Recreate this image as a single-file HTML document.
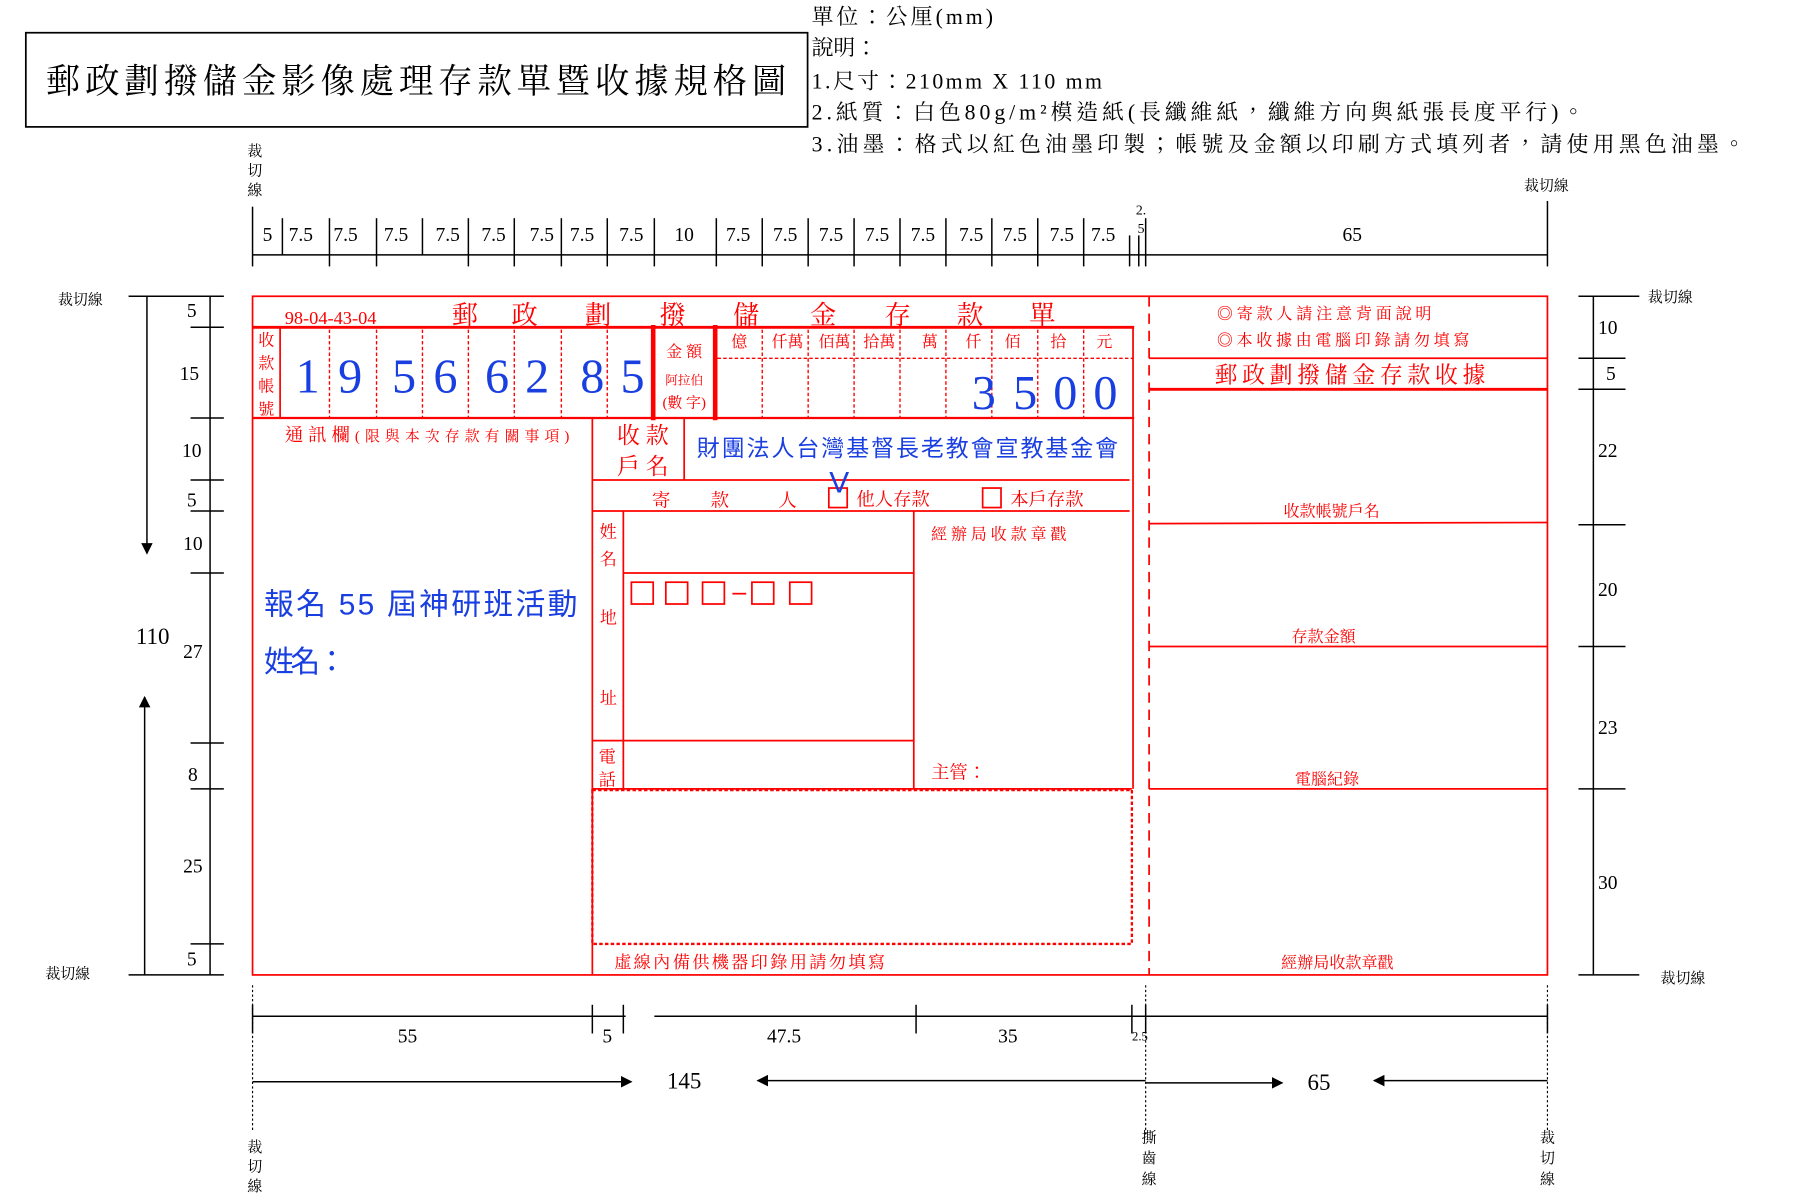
<!DOCTYPE html>
<html><head><meta charset="utf-8"><style>
html,body{margin:0;padding:0;background:#fff;width:1800px;height:1200px;overflow:hidden}
svg{display:block}
text{font-family:"Liberation Serif","Noto Serif CJK TC","Noto Serif CJK SC",serif}
.r{fill:#f00}
.b{fill:#1a3fe0}
.k{fill:#000}
.sans{font-family:"Liberation Sans","Noto Sans CJK TC",sans-serif}
</style></head><body>
<svg width="1800" height="1200" viewBox="0 0 1568 1045" preserveAspectRatio="none" xmlns="http://www.w3.org/2000/svg">
<defs>
<marker id="ah" markerWidth="10" markerHeight="10" refX="9" refY="5" orient="auto" markerUnits="userSpaceOnUse"><path d="M0,0 L10,5 L0,10 z" fill="#000"/></marker>
</defs>
<!-- title box -->
<rect x="22.5" y="28.5" width="681" height="82" fill="none" stroke="#000" stroke-width="1.5"/>
<text x="40" y="81" font-size="30" class="k" textLength="645" lengthAdjust="spacing">郵政劃撥儲金影像處理存款單暨收據規格圖</text>
<g font-size="19" class="k">
<text x="707" y="21" textLength="158" lengthAdjust="spacing">單位：公厘(mm)</text>
<text x="707" y="48">說明：</text>
<text x="707" y="77" textLength="253" lengthAdjust="spacing">1.尺寸：210mm X 110 mm</text>
<text x="707" y="104" textLength="673" lengthAdjust="spacing">2.紙質：白色80g/m²模造紙(長纖維紙，纖維方向與紙張長度平行)。</text>
<text x="707" y="132" textLength="813" lengthAdjust="spacing">3.油墨：格式以紅色油墨印製；帳號及金額以印刷方式填列者，請使用黑色油墨。</text>
</g>
<g font-size="13" class="k" text-anchor="middle">
<text x="222" y="136">裁</text><text x="222" y="153">切</text><text x="222" y="170">線</text>
<text x="1347" y="166">裁切線</text>
<text x="70" y="265">裁切線</text>
<text x="59" y="852">裁切線</text>
<text x="1455" y="263">裁切線</text>
<text x="1466" y="856">裁切線</text>
<text x="222" y="1003">裁</text><text x="222" y="1020">切</text><text x="222" y="1037">線</text>
<text x="1001" y="995">撕</text><text x="1001" y="1013">齒</text><text x="1001" y="1031">線</text>
<text x="1348" y="995">裁</text><text x="1348" y="1013">切</text><text x="1348" y="1031">線</text>
</g>
<!-- top ruler -->
<g stroke="#000" stroke-width="1.3">
<line x1="220" y1="222" x2="1348" y2="222"/>
<line x1="220" y1="180" x2="220" y2="232"/>
<line x1="246" y1="190" x2="246" y2="222"/>
<line x1="287" y1="190" x2="287" y2="232"/>
<line x1="328" y1="190" x2="328" y2="232"/>
<line x1="368" y1="190" x2="368" y2="222"/>
<line x1="408" y1="190" x2="408" y2="232"/>
<line x1="448" y1="190" x2="448" y2="232"/>
<line x1="489" y1="190" x2="489" y2="232"/>
<line x1="529" y1="190" x2="529" y2="232"/>
<line x1="570" y1="190" x2="570" y2="232"/>
<line x1="624" y1="190" x2="624" y2="232"/>
<line x1="664" y1="190" x2="664" y2="232"/>
<line x1="704" y1="190" x2="704" y2="232"/>
<line x1="744" y1="190" x2="744" y2="232"/>
<line x1="784" y1="190" x2="784" y2="232"/>
<line x1="824" y1="190" x2="824" y2="232"/>
<line x1="864" y1="190" x2="864" y2="232"/>
<line x1="904" y1="190" x2="904" y2="232"/>
<line x1="944" y1="190" x2="944" y2="232"/>
<line x1="984" y1="205" x2="984" y2="232"/>
<line x1="992" y1="205" x2="992" y2="232"/>
<line x1="998" y1="190" x2="998" y2="232"/>
<line x1="1348" y1="175" x2="1348" y2="232"/>
</g>
<g font-size="17" class="k" text-anchor="middle">
<text x="233" y="210">5</text><text x="262" y="210">7.5</text><text x="301" y="210">7.5</text>
<text x="345" y="210">7.5</text><text x="390" y="210">7.5</text><text x="430" y="210">7.5</text>
<text x="472" y="210">7.5</text><text x="507" y="210">7.5</text><text x="550" y="210">7.5</text>
<text x="596" y="210">10</text><text x="643" y="210">7.5</text><text x="684" y="210">7.5</text>
<text x="724" y="210">7.5</text><text x="764" y="210">7.5</text><text x="804" y="210">7.5</text>
<text x="846" y="210">7.5</text><text x="884" y="210">7.5</text><text x="925" y="210">7.5</text>
<text x="961" y="210">7.5</text><text x="1178" y="210">65</text>
<text x="994" y="187" font-size="12">2.</text><text x="994" y="203" font-size="12">5</text>
</g>
<!-- left ruler -->
<g stroke="#000" stroke-width="1.3">
<line x1="112" y1="258" x2="195" y2="258"/>
<line x1="112" y1="849" x2="195" y2="849"/>
<line x1="183" y1="258" x2="183" y2="849"/>
<line x1="166" y1="285" x2="195" y2="285"/>
<line x1="166" y1="364" x2="195" y2="364"/>
<line x1="166" y1="418" x2="195" y2="418"/>
<line x1="166" y1="445" x2="195" y2="445"/>
<line x1="166" y1="499" x2="195" y2="499"/>
<line x1="166" y1="647" x2="195" y2="647"/>
<line x1="166" y1="687" x2="195" y2="687"/>
<line x1="166" y1="822" x2="195" y2="822"/>
<line x1="128" y1="258" x2="128" y2="482" marker-end="url(#ah)"/>
<line x1="126" y1="849" x2="126" y2="607" marker-end="url(#ah)"/>
</g>
<g font-size="17" class="k" text-anchor="middle">
<text x="167" y="276">5</text><text x="165" y="331">15</text><text x="167" y="398">10</text>
<text x="167" y="441">5</text><text x="168" y="479">10</text><text x="168" y="573">27</text>
<text x="168" y="680">8</text><text x="168" y="760">25</text><text x="167" y="841">5</text>
<text x="133" y="561" font-size="20">110</text>
</g>
<!-- right ruler -->
<g stroke="#000" stroke-width="1.3">
<line x1="1375" y1="258" x2="1428" y2="258"/>
<line x1="1375" y1="849" x2="1428" y2="849"/>
<line x1="1388" y1="258" x2="1388" y2="849"/>
<line x1="1375" y1="312" x2="1416" y2="312"/>
<line x1="1375" y1="339" x2="1416" y2="339"/>
<line x1="1375" y1="457" x2="1416" y2="457"/>
<line x1="1375" y1="563" x2="1416" y2="563"/>
<line x1="1375" y1="687" x2="1416" y2="687"/>
</g>
<g font-size="17" class="k">
<text x="1392" y="291">10</text><text x="1399" y="331">5</text><text x="1392" y="398">22</text>
<text x="1392" y="519">20</text><text x="1392" y="639">23</text><text x="1392" y="774">30</text>
</g>
<!-- bottom ruler -->
<g stroke="#000" stroke-width="1.3">
<line x1="220" y1="885" x2="545" y2="885"/>
<line x1="570" y1="885" x2="1348" y2="885"/>
<line x1="220" y1="875" x2="220" y2="900"/>
<line x1="516" y1="875" x2="516" y2="900"/>
<line x1="543" y1="875" x2="543" y2="900"/>
<line x1="798" y1="875" x2="798" y2="900"/>
<line x1="986" y1="875" x2="986" y2="900"/>
<line x1="998" y1="875" x2="998" y2="900"/>
<line x1="1348" y1="875" x2="1348" y2="900"/>
<line x1="220" y1="942" x2="550" y2="942" marker-end="url(#ah)"/>
<line x1="998" y1="941" x2="660" y2="941" marker-end="url(#ah)"/>
<line x1="998" y1="943" x2="1117" y2="943" marker-end="url(#ah)"/>
<line x1="1348" y1="941" x2="1197" y2="941" marker-end="url(#ah)"/>
</g>
<g stroke="#000" stroke-width="1" stroke-dasharray="2,2">
<line x1="220" y1="858" x2="220" y2="985"/>
<line x1="998" y1="858" x2="998" y2="990"/>
<line x1="1348" y1="858" x2="1348" y2="985"/>
</g>
<g font-size="17" class="k" text-anchor="middle">
<text x="355" y="908">55</text><text x="529" y="908">5</text><text x="683" y="908">47.5</text>
<text x="878" y="908">35</text><text x="993" y="906" font-size="11">2.5</text>
<text x="596" y="948" font-size="20">145</text><text x="1149" y="949" font-size="20">65</text>
</g>
<!-- form -->
<g stroke="#f00" fill="none" stroke-width="1.5">
<rect x="220" y="258" width="1128" height="591"/>
<line x1="220" y1="285" x2="988" y2="285" stroke-width="2.5"/>
<line x1="220" y1="364" x2="988" y2="364" stroke-width="2"/>
<line x1="244" y1="285" x2="244" y2="364"/>
<line x1="569" y1="283" x2="569" y2="366" stroke-width="4"/>
<line x1="623" y1="283" x2="623" y2="366" stroke-width="4"/>
<line x1="987" y1="285" x2="987" y2="687"/>
<line x1="516" y1="364" x2="516" y2="849"/>
<line x1="596" y1="364" x2="596" y2="418"/>
<line x1="516" y1="418" x2="984" y2="418"/>
<line x1="516" y1="445" x2="984" y2="445"/>
<line x1="543" y1="445" x2="543" y2="687"/>
<line x1="796" y1="445" x2="796" y2="687"/>
<line x1="543" y1="499" x2="796" y2="499"/>
<line x1="516" y1="645" x2="796" y2="645"/>
<line x1="516" y1="687" x2="986" y2="687"/>
<line x1="1001" y1="312" x2="1348" y2="312"/>
<line x1="1001" y1="339" x2="1348" y2="339" stroke-width="2.5"/>
<line x1="1001" y1="456" x2="1348" y2="455"/>
<line x1="1001" y1="563" x2="1348" y2="563"/>
<line x1="1001" y1="687" x2="1348" y2="687"/>
<rect x="722" y="425" width="16" height="17"/>
<rect x="856" y="425" width="16" height="17"/>
<rect x="550" y="507" width="19" height="19"/>
<rect x="580" y="507" width="19" height="19"/>
<rect x="612" y="507" width="19" height="19"/>
<rect x="655" y="507" width="19" height="19"/>
<rect x="688" y="507" width="19" height="19"/>
<line x1="638" y1="517" x2="650" y2="517"/>
</g>
<g stroke="#f00" fill="none" stroke-width="1.2" stroke-dasharray="3,2">
<line x1="287" y1="287" x2="287" y2="364"/><line x1="328" y1="287" x2="328" y2="364"/>
<line x1="368" y1="287" x2="368" y2="364"/><line x1="408" y1="287" x2="408" y2="364"/>
<line x1="448" y1="287" x2="448" y2="364"/><line x1="489" y1="287" x2="489" y2="364"/>
<line x1="529" y1="287" x2="529" y2="364"/>
<line x1="625" y1="312" x2="987" y2="312"/>
<line x1="664" y1="287" x2="664" y2="364"/><line x1="704" y1="287" x2="704" y2="364"/>
<line x1="744" y1="287" x2="744" y2="364"/><line x1="784" y1="287" x2="784" y2="364"/>
<line x1="824" y1="287" x2="824" y2="364"/><line x1="864" y1="287" x2="864" y2="364"/>
<line x1="904" y1="287" x2="904" y2="364"/><line x1="944" y1="287" x2="944" y2="364"/>
<rect x="516" y="688" width="470" height="134" stroke-width="2"/>
</g>
<line x1="1001" y1="258" x2="1001" y2="849" stroke="#f00" stroke-width="1.5" stroke-dasharray="9,6"/>
<!-- form red text -->
<g class="r">
<text x="248" y="282" font-size="16">98-04-43-04</text>
<g font-size="23" text-anchor="middle">
<text x="405" y="282">郵</text><text x="457" y="282">政</text><text x="521" y="282">劃</text>
<text x="586" y="282">撥</text><text x="650" y="282">儲</text><text x="717" y="282">金</text>
<text x="782" y="282">存</text><text x="845" y="282">款</text><text x="908" y="282">單</text>
</g>
<g font-size="14" text-anchor="middle">
<text x="232" y="301">收</text><text x="232" y="321">款</text><text x="232" y="341">帳</text><text x="232" y="361">號</text>
<text x="596" y="311" font-size="14">金 額</text>
<text x="596" y="335" font-size="11">阿拉伯</text>
<text x="596" y="355" font-size="13">(數 字)</text>
<text x="644" y="302">億</text><text x="686" y="302">仟萬</text><text x="727" y="302">佰萬</text>
<text x="766" y="302">拾萬</text><text x="810" y="302">萬</text><text x="848" y="302">仟</text>
<text x="882" y="302">佰</text><text x="922" y="302">拾</text><text x="962" y="302">元</text>
</g>
<text x="248" y="384" font-size="16" textLength="248" lengthAdjust="spacing">通訊欄<tspan font-size="13">(限與本次存款有關事項)</tspan></text>
<text x="560" y="386" font-size="20" text-anchor="middle">收 款</text>
<text x="560" y="413" font-size="20" text-anchor="middle">戶 名</text>
<text x="568" y="441" font-size="16">寄</text><text x="619" y="441" font-size="16">款</text><text x="678" y="441" font-size="16">人</text>
<text x="746" y="440" font-size="16">他人存款</text>
<text x="880" y="440" font-size="16">本戶存款</text>
<g font-size="15" text-anchor="middle">
<text x="530" y="468">姓</text><text x="530" y="492">名</text>
<text x="530" y="543">地</text><text x="530" y="613">址</text>
<text x="529" y="664">電</text><text x="529" y="684">話</text>
</g>
<text x="811" y="470" font-size="14" textLength="118" lengthAdjust="spacing">經辦局收款章戳</text>
<text x="811" y="678" font-size="16">主管：</text>
<text x="535" y="843" font-size="15" textLength="236" lengthAdjust="spacing">虛線內備供機器印錄用請勿填寫</text>
<text x="1060" y="278" font-size="14" textLength="187" lengthAdjust="spacing">◎寄款人請注意背面說明</text>
<text x="1060" y="301" font-size="14" textLength="220" lengthAdjust="spacing">◎本收據由電腦印錄請勿填寫</text>
<text x="1178" y="333" font-size="20" text-anchor="middle" letter-spacing="4">郵政劃撥儲金存款收據</text>
<text x="1160" y="450" font-size="14" text-anchor="middle">收款帳號戶名</text>
<text x="1153" y="559" font-size="14" text-anchor="middle">存款金額</text>
<text x="1156" y="683" font-size="14" text-anchor="middle">電腦紀錄</text>
<text x="1165" y="843" font-size="14" text-anchor="middle">經辦局收款章戳</text>
</g>
<!-- blue -->
<g class="b sans" font-size="42" text-anchor="middle">
<text x="268" y="342">1</text><text x="305" y="342">9</text><text x="352" y="342">5</text><text x="388" y="342">6</text>
<text x="433" y="342">6</text><text x="468" y="342">2</text><text x="516" y="342">8</text><text x="551" y="342">5</text>
<text x="857" y="356">3</text><text x="893" y="356">5</text><text x="928" y="356">0</text><text x="963" y="356">0</text>
</g>
<text x="607" y="397" font-size="20" class="b sans" textLength="367" lengthAdjust="spacing">財團法人台灣基督長老教會宣教基金會</text>
<text x="731" y="429" font-size="26" class="b sans" text-anchor="middle">V</text>
<text x="230" y="535" font-size="26" class="b sans" textLength="273" lengthAdjust="spacing">報名 55 屆神研班活動</text>
<text x="230" y="585" font-size="26" class="b sans" textLength="72" lengthAdjust="spacing">姓名：</text>
</svg>
</body></html>
